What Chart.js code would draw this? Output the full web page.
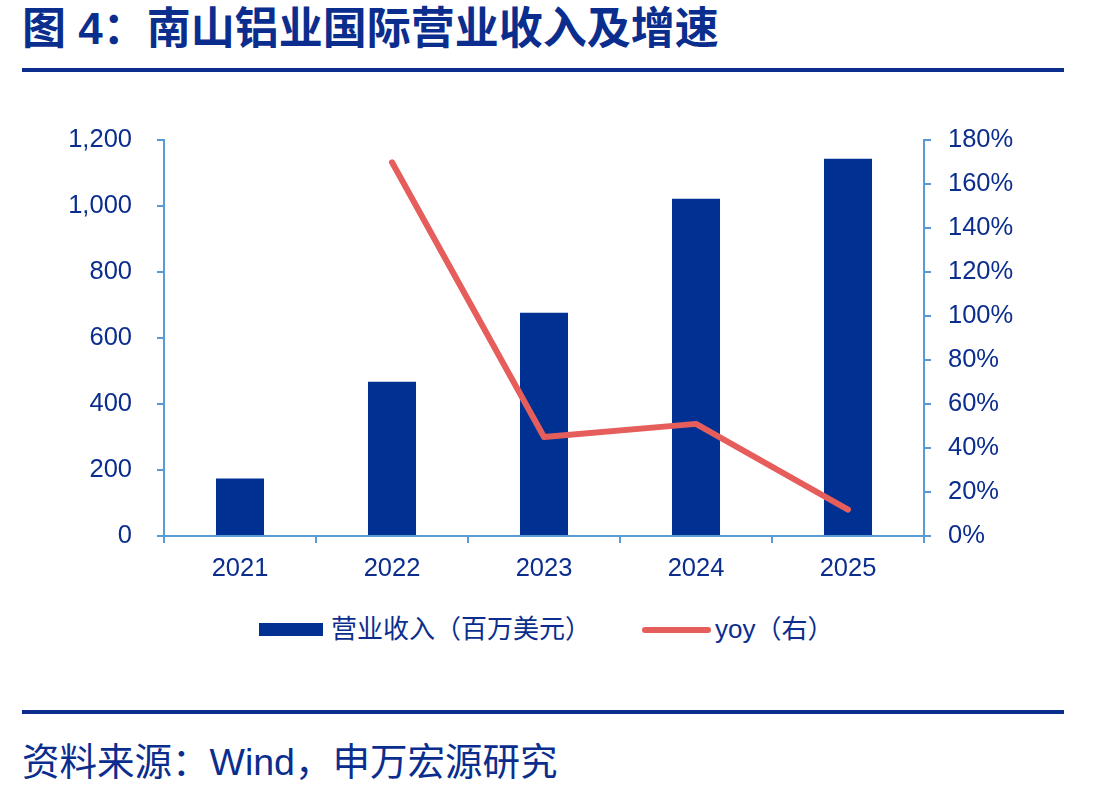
<!DOCTYPE html>
<html lang="zh-CN">
<head>
<meta charset="utf-8">
<script src="https://cdn.jsdelivr.net/npm/chart.js@4.4.1/dist/chart.umd.min.js"></script>
<style>
  html, body { margin: 0; padding: 0; background: #fff; }
  body { width: 1100px; height: 794px; position: relative; overflow: hidden;
         font-family: "Liberation Sans", "Noto Sans CJK SC", sans-serif; color: #0b2e8e; }
  .titulo { position: absolute; left: 22px; top: 3px; font-size: 44px; line-height: 52px;
            font-weight: bold; white-space: nowrap; }
  .linha { position: absolute; left: 22px; width: 1042px; height: 4px; background: #0b2e8e; }
  .grafico { position: absolute; left: 0; top: 100px; width: 1100px; height: 500px; }
  .leg-caixa { position: absolute; left: 259px; top: 623px; width: 64px; height: 13px; background: #003091; }
  .leg-linha { position: absolute; left: 642px; top: 627px; width: 69px; height: 6px; border-radius: 3px; background: #e55e5c; }
  .leg-texto { position: absolute; top: 614px; font-size: 26px; line-height: 30px; white-space: nowrap; }
  .fonte { position: absolute; left: 22px; top: 739px; font-size: 37.5px; line-height: 46px; white-space: nowrap; }
</style>
</head>
<body>
<div class="titulo">图 4：南山铝业国际营业收入及增速</div>
<div class="linha" style="top:68px"></div>
<div class="grafico"><canvas id="graficoReceita"></canvas></div>
<div class="leg-caixa"></div>
<div class="leg-texto" style="left:331px">营业收入（百万美元）</div>
<div class="leg-linha"></div>
<div class="leg-texto" style="left:715px">yoy（右）</div>
<div class="linha" style="top:710px"></div>
<div class="fonte">资料来源：Wind，申万宏源研究</div>

<script>
// dados
const anos = ['2021', '2022', '2023', '2024', '2025'];
const receita = [174, 468, 677, 1023, 1144];   // 百万美元
const yoy = [null, 170, 45, 51, 12];            // %
const ticksEsq = [0, 200, 400, 600, 800, 1000, 1200];
const ticksDir = [0, 20, 40, 60, 80, 100, 120, 140, 160, 180];

const corEixo = '#5b9bd5';
const corTexto = '#0b2e8e';
const fonteTick = { family: '"Liberation Sans", Arial, sans-serif', size: 25.5 };

new Chart(document.getElementById('graficoReceita'), {
  type: 'bar',
  data: {
    labels: anos,
    datasets: [
      {
        type: 'line',
        label: 'yoy（右）',
        data: yoy,
        yAxisID: 'y1',
        borderColor: '#e55e5c',
        borderWidth: 6,
        borderCapStyle: 'round',
        borderJoinStyle: 'round',
        pointRadius: 0,
        tension: 0,
        order: 0
      },
      {
        label: '营业收入（百万美元）',
        data: receita,
        yAxisID: 'y',
        backgroundColor: '#003091',
        barPercentage: 1,
        categoryPercentage: 0.316,
        order: 1
      }
    ]
  },
  options: {
    responsive: true,
    maintainAspectRatio: false,
    animation: false,
    layout: { padding: { top: 39, left: 0, right: 0, bottom: 0 } },
    plugins: {
      legend: { display: false },
      tooltip: { enabled: false }
    },
    scales: {
      x: {
        offset: true,
        grid: { offset: true, drawOnChartArea: false, drawTicks: true, tickLength: 7, color: corEixo, lineWidth: 2 },
        border: { color: corEixo, width: 2 },
        ticks: { color: corTexto, font: fonteTick, padding: 11 },
        afterFit: s => { s.height = 64; }
      },
      y: {
        position: 'left',
        min: 0,
        max: 1200,
        grid: { drawOnChartArea: false, drawTicks: true, tickLength: 7, color: corEixo, lineWidth: 2 },
        border: { color: corEixo, width: 2 },
        afterBuildTicks: s => { s.ticks = ticksEsq.map(v => ({ value: v })); },
        ticks: {
          color: corTexto,
          font: fonteTick,
          padding: 25,
          callback: v => v.toLocaleString('en-US')
        },
        afterFit: s => { s.width = 164; }
      },
      y1: {
        position: 'right',
        min: 0,
        max: 180,
        grid: { drawOnChartArea: false, drawTicks: true, tickLength: 7, color: corEixo, lineWidth: 2 },
        border: { color: corEixo, width: 2 },
        afterBuildTicks: s => { s.ticks = ticksDir.map(v => ({ value: v })); },
        ticks: {
          color: corTexto,
          font: fonteTick,
          padding: 17,
          callback: v => v + '%'
        },
        afterFit: s => { s.width = 176; }
      }
    }
  }
});
</script>
</body>
</html>
